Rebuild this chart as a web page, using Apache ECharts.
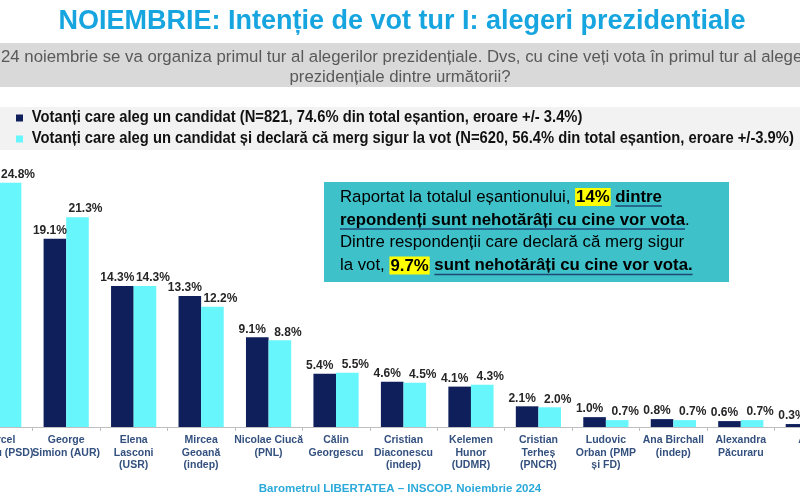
<!DOCTYPE html>
<html>
<head>
<meta charset="utf-8">
<script src="https://cdn.jsdelivr.net/npm/echarts@6/dist/echarts.min.js"></script>
<style>
html,body{margin:0;padding:0;background:#fff;overflow:hidden;width:800px;height:500px;position:relative;}
#main{position:absolute;left:-35px;top:0;width:877px;height:500px;}
</style>
</head>
<body>
<div id="main"></div>
<script>
const categories = [
  'Marcel\nCiolacu (PSD)', 'George\nSimion (AUR)', 'Elena\nLasconi\n(USR)', 'Mircea\nGeoană\n(indep)',
  'Nicolae Ciucă\n(PNL)', 'Călin\nGeorgescu', 'Cristian\nDiaconescu\n(indep)', 'Kelemen\nHunor\n(UDMR)',
  'Cristian\nTerheș\n(PNCR)', 'Ludovic\nOrban (PMP\nși FD)', 'Ana Birchall\n(indep)', 'Alexandra\nPăcuraru', 'Alții'
];
const seriesNames = [
  'Votanți care aleg un candidat (N=821, 74.6% din total eșantion, eroare +/- 3.4%)',
  'Votanți care aleg un candidat și declară că merg sigur la vot (N=620, 56.4% din total eșantion, eroare +/-3.9%)'
];
const votersAll  = [23.5, 19.1, 14.3, 13.3, 9.1, 5.4, 4.6, 4.1, 2.1, 1.0, 0.8, 0.6, 0.3];
const votersSure = [24.8, 21.3, 14.3, 12.2, 8.8, 5.5, 4.5, 4.3, 2.0, 0.7, 0.7, 0.7, 0.2];

const titleText = 'NOIEMBRIE: Intenție de vot tur I: alegeri prezidentiale';
const questionLines = [
  'Pe 24 noiembrie se va organiza primul tur al alegerilor prezidențiale. Dvs, cu cine veți vota în primul tur al alegerilor',
  'prezidențiale dintre următorii?'
];
const footerText = 'Barometrul LIBERTATEA – INSCOP. Noiembrie 2024';

const NAVY = '#0E1F5B', CYAN = '#66F6FC';
const BOXBLUE = '#1F4A78';
const BOX_FS = 16.8;
const FN = '"Liberation Sans", Arial, sans-serif';
const OX = 35; // container is shifted 35px left; graphics use page coords + OX

const cv = document.createElement('canvas').getContext('2d');
function mw(t, font) { cv.font = font; return cv.measureText(t).width; }
function tw(t, bold) { return mw(t, (bold ? 'bold ' : '') + BOX_FS + 'px ' + FN); }

const boxLines = [
  [['n', 'Raportat la totalul eșantionului, '], ['h', '14%'], ['n', ' '], ['b', 'dintre']],
  [['b', 'repondenți sunt nehotărâți cu cine vor vota'], ['n', '.']],
  [['n', 'Dintre respondenții care declară că merg sigur']],
  [['n', 'la vot, '], ['h', '9.7%'], ['n', ' '], ['b', 'sunt nehotărâți cu cine vor vota.']]
];
const boxX = 340, boxYs = [197, 220, 242.5, 265.5];
const HPAD = 1;

const LEG_FONT = 'bold 16px ' + FN;
const legScale = 762 / mw(seriesNames[1], LEG_FONT);
const legColors = [NAVY, CYAN];
const legYs = [118, 139];

const graphics = [
  { type: 'rect', z: -10, shape: { x: 0 + OX, y: 43, width: 800, height: 44 }, style: { fill: '#d9d9d9' } },
  { type: 'rect', z: -10, shape: { x: 0 + OX, y: 107, width: 800, height: 43 }, style: { fill: '#f2f2f2' } },
  { type: 'text', x: 402 + OX, y: 22, style: { text: titleText, textAlign: 'center', textVerticalAlign: 'middle',
      font: 'bold 27px ' + FN, fill: '#17A5E0' } },
  { type: 'text', x: 403 + OX, y: 57, style: { text: questionLines[0], textAlign: 'center', textVerticalAlign: 'middle',
      font: '16.8px ' + FN, fill: '#595959' } },
  { type: 'text', x: 400 + OX, y: 77, style: { text: questionLines[1], textAlign: 'center', textVerticalAlign: 'middle',
      font: '16.8px ' + FN, fill: '#595959' } },
  { type: 'rect', shape: { x: 324 + OX, y: 182, width: 405, height: 100 }, style: { fill: '#3EC1C8' } },
  { type: 'text', x: 400 + OX, y: 489, style: { text: footerText, textAlign: 'center', textVerticalAlign: 'middle',
      font: 'bold 11.5px ' + FN, fill: '#2BA9DA' } }
];

seriesNames.forEach((name, i) => {
  graphics.push({ type: 'rect', shape: { x: 16 + OX, y: legYs[i] - 3.5, width: 7, height: 7 }, style: { fill: legColors[i] } });
  graphics.push({ type: 'text', x: 27 + OX, y: legYs[i], scaleX: legScale, originX: 27 + OX, originY: legYs[i],
    style: { text: name, textAlign: 'left', textVerticalAlign: 'middle', font: LEG_FONT, fill: '#111111' } });
});

boxLines.forEach((segs, i) => {
  let x = boxX + OX;
  const y = boxYs[i];
  let rich = '';
  segs.forEach(([k, t]) => {
    const bold = k !== 'n';
    const w = tw(t, bold) + (k === 'h' ? 2 * HPAD : 0);
    rich += '{' + k + '|' + t + '}';
    if (k === 'b') {
      graphics.push({ type: 'line', shape: { x1: x, y1: y + 9, x2: x + w, y2: y + 9 },
        style: { stroke: BOXBLUE, lineWidth: 1.6 } });
    }
    x += w;
  });
  graphics.push({ type: 'text', x: boxX + OX, y: y, style: {
    text: rich, textAlign: 'left', textVerticalAlign: 'middle',
    rich: {
      n: { fontSize: BOX_FS, fontFamily: FN, color: '#ffffff' },
      b: { fontSize: BOX_FS, fontFamily: FN, fontWeight: 'bold', color: BOXBLUE },
      h: { fontSize: BOX_FS, fontFamily: FN, fontWeight: 'bold', color: '#1E3B5A', backgroundColor: '#FFFF00', padding: [1, HPAD, 0, HPAD] }
    }
  } });
});

const chart = echarts.init(document.getElementById('main'), null, { renderer: 'canvas' });
const labelFmt = p => p.value.toFixed(1) + '%';
chart.setOption({
  animation: false,
  backgroundColor: '#ffffff',
  legend: { show: false, data: seriesNames },
  grid: { left: 0, right: 0, top: 161, bottom: 73, containLabel: false, outerBoundsMode: 'none' },
  xAxis: {
    type: 'category', data: categories,
    axisLine: { lineStyle: { color: '#bfbfbf', width: 1 } },
    axisTick: { show: true, length: 4, lineStyle: { color: '#bfbfbf' } },
    axisLabel: { interval: 0, margin: 7, fontFamily: FN, fontWeight: 'bold', fontSize: 10.5,
      lineHeight: 12.5, color: '#33507E' }
  },
  yAxis: { type: 'value', min: 0, max: 27, show: false, splitLine: { show: false } },
  series: [
    { name: seriesNames[0], type: 'bar', data: votersAll, barGap: '0%', barCategoryGap: '33%',
      itemStyle: { color: NAVY },
      label: { show: true, position: 'top', distance: 2, offset: [-5, 0], formatter: labelFmt,
        fontFamily: FN, fontWeight: 'bold', fontSize: 12, color: '#262626' } },
    { name: seriesNames[1], type: 'bar', data: votersSure, barGap: '0%', barCategoryGap: '33%',
      itemStyle: { color: CYAN },
      label: { show: true, position: 'top', distance: 2, offset: [8, 0], formatter: labelFmt,
        fontFamily: FN, fontWeight: 'bold', fontSize: 12, color: '#262626' } }
  ],
  graphic: graphics
});
</script>
</body>
</html>
